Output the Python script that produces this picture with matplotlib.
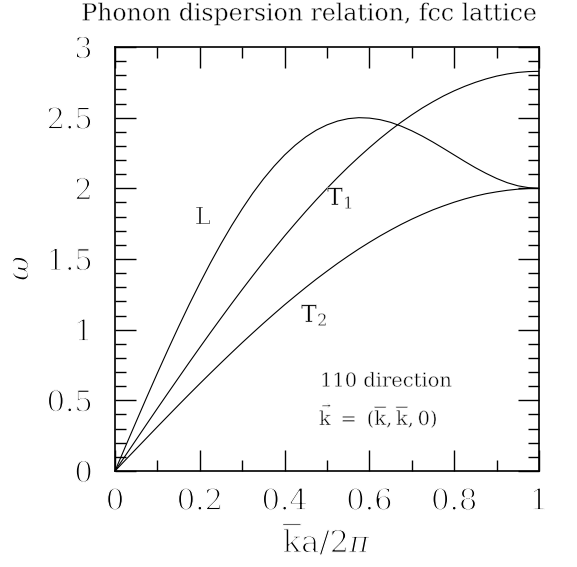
import matplotlib
matplotlib.use('Agg')
import matplotlib.pyplot as plt
import matplotlib.patheffects as pe
from matplotlib.ticker import MultipleLocator

# k a / 2pi along the 110 direction
kk = [0.0, 0.025, 0.05, 0.075, 0.10, 0.125, 0.15, 0.175, 0.20, 0.225, 0.25,
      0.275, 0.30, 0.325, 0.35, 0.375, 0.40, 0.425, 0.45, 0.475, 0.50,
      0.525, 0.55, 0.575, 0.60, 0.625, 0.65, 0.675, 0.70, 0.725, 0.75,
      0.775, 0.80, 0.825, 0.85, 0.875, 0.90, 0.925, 0.95, 0.975, 1.0]
w_L = [0.0, 0.176, 0.350, 0.523, 0.693, 0.859, 1.021, 1.178, 1.328, 1.472, 1.608,
       1.736, 1.855, 1.966, 2.066, 2.156, 2.236, 2.305, 2.364, 2.412, 2.449,
       2.476, 2.493, 2.500, 2.497, 2.486, 2.467, 2.440, 2.407, 2.369, 2.327,
       2.282, 2.236, 2.190, 2.146, 2.106, 2.070, 2.040, 2.018, 2.005, 2.0]
w_T1 = [0.0, 0.111, 0.222, 0.333, 0.443, 0.552, 0.660, 0.768, 0.874, 0.979, 1.082,
        1.184, 1.284, 1.382, 1.478, 1.571, 1.663, 1.751, 1.837, 1.920, 2.000,
        2.077, 2.151, 2.221, 2.288, 2.352, 2.412, 2.468, 2.520, 2.569, 2.613,
        2.654, 2.690, 2.722, 2.750, 2.774, 2.794, 2.809, 2.820, 2.826, 2.828]
w_T2 = [0.0, 0.079, 0.157, 0.235, 0.313, 0.390, 0.467, 0.543, 0.618, 0.692, 0.765,
        0.837, 0.908, 0.977, 1.045, 1.111, 1.176, 1.238, 1.299, 1.358, 1.414,
        1.469, 1.521, 1.571, 1.618, 1.663, 1.705, 1.745, 1.782, 1.816, 1.848,
        1.876, 1.902, 1.925, 1.945, 1.962, 1.975, 1.986, 1.994, 1.999, 2.0]

plt.rcParams['font.family'] = ['DejaVu Serif']
plt.rcParams['mathtext.fontset'] = 'dejavuserif'

# thin the glyphs a little so they look like the plotter font
thin_big = [pe.Stroke(linewidth=0.9, foreground='white')]
thin_small = [pe.Stroke(linewidth=0.35, foreground='white')]

fig = plt.figure(figsize=(5.77, 5.67), dpi=100)
ax = fig.add_axes([115/577, 96/567, 424/577, 424/567])

for w in (w_L, w_T1, w_T2):
    ax.plot(kk, w, c='k', lw=0.8)

ax.set_xlim(0, 1)
ax.set_ylim(0, 3)
ax.xaxis.set_major_locator(MultipleLocator(0.2))
ax.xaxis.set_minor_locator(MultipleLocator(0.1))
ax.yaxis.set_major_locator(MultipleLocator(0.5))
ax.yaxis.set_minor_locator(MultipleLocator(0.1))
ax.xaxis.set_major_formatter(lambda v, p: '%g' % round(v, 2))
ax.yaxis.set_major_formatter(lambda v, p: '%g' % round(v, 2))
ax.tick_params(which='both', direction='in', top=True, right=True, width=1, labelsize=21)
ax.tick_params(which='major', length=15)
ax.tick_params(which='minor', length=8)
ax.tick_params(axis='x', pad=12)
ax.tick_params(axis='y', pad=16)
for s in ax.spines.values():
    s.set_linewidth(1.2)
for t in ax.get_xticklabels() + ax.get_yticklabels():
    t.set_path_effects(thin_big)

ax.text(0.2075, 1.794, 'L', fontsize=17, ha='center', va='center', path_effects=thin_small)
ax.text(0.5, 1.882, r'T$_1$', fontsize=17, ha='left', va='baseline', path_effects=thin_small)
ax.text(0.4387, 1.054, r'T$_2$', fontsize=17, ha='left', va='baseline', path_effects=thin_small)
ax.text(0.4835, 0.5965, '110 direction', fontsize=14, ha='left', va='baseline',
        path_effects=thin_small)
ax.text(0.481, 0.325, r'$\vec{\mathrm{k}}\ =\ (\overline{\mathrm{k}},\overline{\mathrm{k}},0)$',
        fontsize=14, ha='left', va='baseline', path_effects=thin_small)

fig.text(309/577, 1 - 14/567, 'Phonon dispersion relation, fcc lattice',
         fontsize=17, ha='center', va='center', path_effects=thin_small)
fig.text(327/577, 1 - 540/567, r'$\overline{\mathrm{k}}\mathrm{a}/2\pi$',
         fontsize=22, ha='center', va='center', path_effects=thin_big)
fig.text(20/577, 1 - 268/567, r'$\omega$', fontsize=22, rotation=90,
         ha='center', va='center', path_effects=thin_big)

fig.savefig('out.png')
